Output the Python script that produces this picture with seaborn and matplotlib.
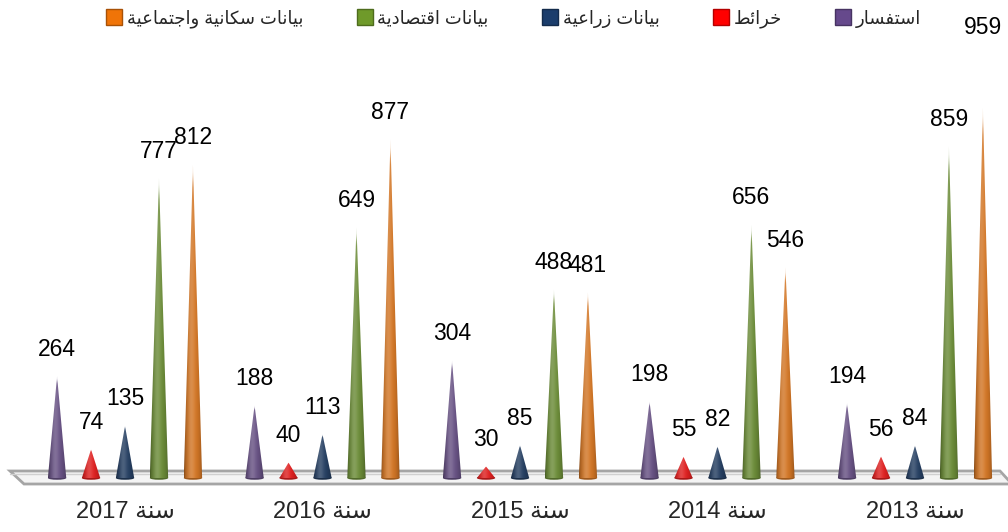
import numpy as np
import pandas as pd
import seaborn as sns
import matplotlib.pyplot as plt
from matplotlib.patches import Polygon, Ellipse
from matplotlib.lines import Line2D
from matplotlib.colors import to_rgb

# data
years = ['سنة 2017', 'سنة 2016', 'سنة 2015', 'سنة 2014', 'سنة 2013']
series = ['استفسار', 'خرائط', 'بيانات زراعية', 'بيانات اقتصادية', 'بيانات سكانية واجتماعية']
inquiry = [264, 188, 304, 198, 194]
maps = [74, 40, 30, 55, 56]
agri = [135, 113, 85, 82, 84]
econ = [777, 649, 488, 656, 859]
social = [812, 877, 481, 546, 959]
colors = ['#66498c', '#ff0000', '#1b3d6c', '#6f9a2a', '#f07408']

# matplotlib has no arabic shaping, so pick the presentation forms by hand
FORMS = {
    'ا': ('\uFE8D', '\uFE8E'),
    'ب': ('\uFE8F', '\uFE90', '\uFE91', '\uFE92'),
    'ة': ('\uFE93', '\uFE94'),
    'ت': ('\uFE95', '\uFE96', '\uFE97', '\uFE98'),
    'ج': ('\uFE9D', '\uFE9E', '\uFE9F', '\uFEA0'),
    'خ': ('\uFEA5', '\uFEA6', '\uFEA7', '\uFEA8'),
    'د': ('\uFEA9', '\uFEAA'),
    'ر': ('\uFEAD', '\uFEAE'),
    'ز': ('\uFEAF', '\uFEB0'),
    'س': ('\uFEB1', '\uFEB2', '\uFEB3', '\uFEB4'),
    'ص': ('\uFEB9', '\uFEBA', '\uFEBB', '\uFEBC'),
    'ط': ('\uFEC1', '\uFEC2', '\uFEC3', '\uFEC4'),
    'ع': ('\uFEC9', '\uFECA', '\uFECB', '\uFECC'),
    'ف': ('\uFED1', '\uFED2', '\uFED3', '\uFED4'),
    'ق': ('\uFED5', '\uFED6', '\uFED7', '\uFED8'),
    'ك': ('\uFED9', '\uFEDA', '\uFEDB', '\uFEDC'),
    'م': ('\uFEE1', '\uFEE2', '\uFEE3', '\uFEE4'),
    'ن': ('\uFEE5', '\uFEE6', '\uFEE7', '\uFEE8'),
    'و': ('\uFEED', '\uFEEE'),
    'ي': ('\uFEF1', '\uFEF2', '\uFEF3', '\uFEF4'),
    'ئ': ('\uFE89', '\uFE8A', '\uFE8B', '\uFE8C'),
}


def shape(word):
    out = []
    for i, ch in enumerate(word):
        f = FORMS.get(ch)
        if f is None:
            out.append(ch)
            continue
        prev = word[i - 1] if i > 0 else ''
        nxt = word[i + 1] if i + 1 < len(word) else ''
        jp = prev in FORMS and len(FORMS[prev]) == 4
        jn = len(f) == 4 and nxt in FORMS
        if jp and jn:
            out.append(f[3])
        elif jp:
            out.append(f[1])
        elif jn:
            out.append(f[2])
        else:
            out.append(f[0])
    return ''.join(out)


def ar(text):
    words = text.split(' ')
    words = [shape(w)[::-1] if any(c in FORMS for c in w) else w for w in words]
    return ' '.join(words[::-1])


df = pd.DataFrame({
    'year': np.repeat(years, len(series)),
    'series': series * len(years),
    'value': np.column_stack([inquiry, maps, agri, econ, social]).ravel(),
})

sns.set_style('white')
plt.rcParams['font.family'] = ['Liberation Sans', 'DejaVu Sans']

fig = plt.figure(figsize=(10.08, 5.32), dpi=100)
ax = fig.add_axes([0, 42 / 532, 1, 490 / 532])
sns.barplot(data=df, x='year', y='value', hue='series', order=years,
            hue_order=series, palette=colors, width=0.86, legend=False, ax=ax)

xlim = (-0.633, 4.471)
ylim = (-31, 1238)
ax.set_xlim(xlim)
ax.set_ylim(ylim)
W, H = 1008, 490


def px(x, y):
    # figure pixel (from top-left) -> data coords
    return (xlim[0] + x / W * (xlim[1] - xlim[0]),
            ylim[1] - y / H * (ylim[1] - ylim[0]))


# floor slab
floor = Polygon([px(10, 471), px(1000, 471), px(1012, 484), px(24, 484)],
                closed=True, facecolor='#f4f4f4', edgecolor='#a5a5a5',
                lw=2, zorder=1)
ax.add_patch(floor)
ax.plot([px(10, 471)[0], px(1000, 471)[0]], [px(0, 474)[1]] * 2,
        color='#d0d0d0', lw=1, zorder=1)

vmax = df['value'].max()
for bar in list(ax.patches):
    if bar is floor:
        continue
    h = bar.get_height()
    if np.isnan(h) or h <= 0:
        continue
    cx = bar.get_x() + bar.get_width() / 2
    hw = bar.get_width() * 0.27
    base = np.array(to_rgb(bar.get_facecolor()))
    bar.set_visible(False)

    # horizontal shading: dark edges, light streak left of centre
    t = np.linspace(0, 1, 40)
    light = np.exp(-((t - 0.38) / 0.2) ** 2)
    shade = 0.62 + 0.38 * np.sin(np.pi * t) ** 0.5
    row = base[None, :] * shade[:, None]
    row = row + (1 - row) * 0.18 * light[:, None]
    ny = 60
    img = np.ones((ny, 40, 4))
    img[:, :, :3] = row[None, :, :]
    alpha = np.clip((1 - np.linspace(0, 1, ny)) / 0.06, 0.3, 1)
    img[:, :, 3] = alpha[:, None]

    tri = Polygon([(cx - hw, 0), (cx + hw, 0), (cx, h)], closed=True,
                  facecolor='none', edgecolor='none')
    ax.add_patch(tri)
    im = ax.imshow(img, extent=[cx - hw, cx + hw, 0, h], origin='lower',
                   aspect='auto', interpolation='bilinear', zorder=3)
    im.set_clip_path(tri)
    ax.add_patch(Ellipse((cx, 0), 2 * hw, 9, facecolor=base * 0.75,
                         edgecolor='none', zorder=2.9))

    off = 80 if h == vmax else 27
    ax.annotate(f'{int(h)}', (cx, h), xytext=(0, off * 0.72),
                textcoords='offset points', ha='center', va='center',
                fontsize=16.5, color='black', zorder=5)

ax.set_xlim(xlim)
ax.set_ylim(ylim)
ax.set_xticks(range(len(years)), [ar(y) for y in years])
ax.tick_params(axis='x', length=0, pad=8, labelsize=17)
ax.set_yticks([])
ax.set_xlabel('')
ax.set_ylabel('')
sns.despine(ax=ax, left=True, bottom=True)

handles = [Line2D([], [], marker='s', ls='none', markersize=11,
                  markerfacecolor=c, markeredgecolor=np.array(to_rgb(c)) * 0.7)
           for c in colors]
labels = [ar(s) for s in series]
fig.legend(handles[::-1], labels[::-1], loc='center', bbox_to_anchor=(0.51, 1 - 19 / 532),
           ncol=5, frameon=False, fontsize=13, handletextpad=0.3,
           columnspacing=3.0, handlelength=0.8)

fig.savefig('out.png', dpi=100)
